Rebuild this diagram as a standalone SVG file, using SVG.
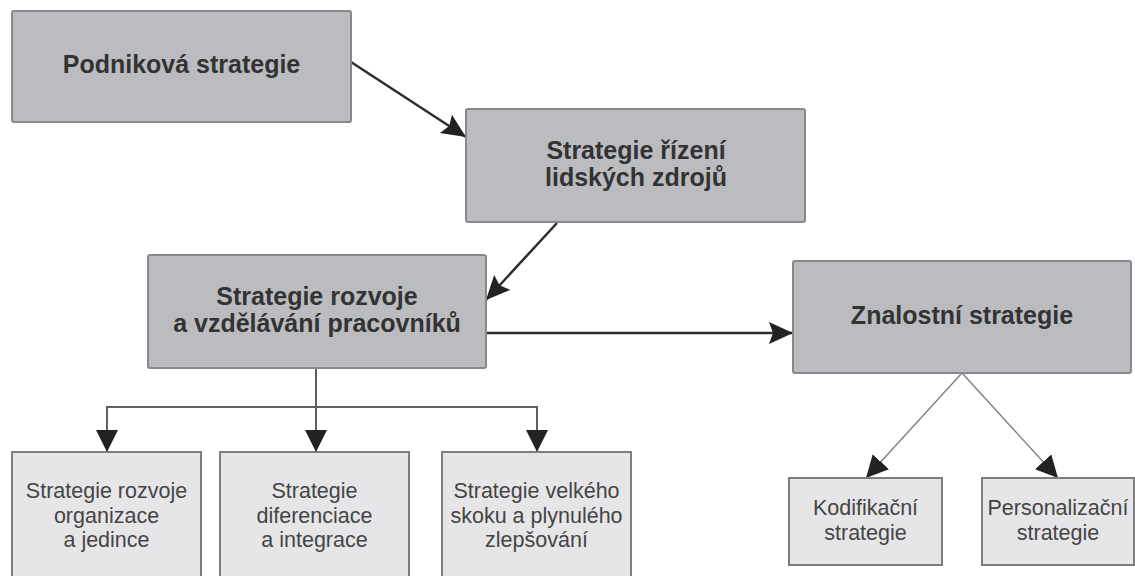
<svg xmlns="http://www.w3.org/2000/svg" width="1135" height="576" viewBox="0 0 1135 576">
<style>
.main{fill:#bbbcbf;stroke:#88898b;stroke-width:2}
.sub{fill:#e6e6e8;stroke:#7d7d7f;stroke-width:2}
.tb{font-family:"Liberation Sans",Arial,sans-serif;font-weight:bold;font-size:25px;fill:#333;text-anchor:middle}
.tr{font-family:"Liberation Sans",Arial,sans-serif;font-size:21.5px;fill:#454545;text-anchor:middle}
.thick{stroke:#2e2e2e;stroke-width:2.5;fill:none}
.mid{stroke:#606060;stroke-width:2;fill:none}
.thin{stroke:#777;stroke-width:1.2;fill:none}
</style>
<defs>
<marker id="ah" markerUnits="userSpaceOnUse" markerWidth="26" markerHeight="24" refX="24" refY="11" orient="auto">
<path d="M0,0 L24,11 L0,22 L4,11 z" fill="#222"/>
</marker>
<marker id="ahd" markerUnits="userSpaceOnUse" markerWidth="24" markerHeight="24" refX="22" refY="11" orient="auto">
<path d="M0,0 L22,11 L0,22 z" fill="#222"/>
</marker>
</defs>
<g id="connectors">
<line class="thick" x1="351" y1="62" x2="466" y2="137" marker-end="url(#ah)"/>
<line class="thick" x1="557" y1="223" x2="486" y2="300" marker-end="url(#ah)"/>
<line class="thick" x1="486" y1="333" x2="793" y2="333" marker-end="url(#ah)"/>
<path class="mid" d="M316,368 V452" marker-end="url(#ahd)"/>
<path class="mid" d="M316,407 H107 V452" marker-end="url(#ahd)"/>
<path class="mid" d="M316,407 H537 V452" marker-end="url(#ahd)"/>
<line class="thin" x1="962" y1="373" x2="866" y2="478" marker-end="url(#ahd)"/>
<line class="thin" x1="962" y1="373" x2="1058" y2="478" marker-end="url(#ahd)"/>
</g>
<g id="podnikova">
<rect class="main" x="12" y="11" width="339" height="111" rx="2"/>
<text class="tb" x="181.5" y="73">Podniková strategie</text>
</g>
<g id="rlz">
<rect class="main" x="466" y="109" width="339" height="113" rx="2"/>
<text class="tb" x="636" y="159">Strategie řízení</text>
<text class="tb" x="636" y="186">lidských zdrojů</text>
</g>
<g id="rozvoj">
<rect class="main" x="148" y="255" width="338" height="113" rx="2"/>
<text class="tb" x="317" y="305">Strategie rozvoje</text>
<text class="tb" x="317" y="332">a vzdělávání pracovníků</text>
</g>
<g id="znalostni">
<rect class="main" x="793" y="261" width="338" height="112" rx="2"/>
<text class="tb" x="962" y="324">Znalostní strategie</text>
</g>
<g id="organizace">
<rect class="sub" x="12" y="452" width="189" height="140"/>
<text class="tr" x="106.5" y="498">Strategie rozvoje</text>
<text class="tr" x="106.5" y="523">organizace</text>
<text class="tr" x="106.5" y="547">a jedince</text>
</g>
<g id="diferenciace">
<rect class="sub" x="220" y="452" width="189" height="140"/>
<text class="tr" x="314.5" y="498">Strategie</text>
<text class="tr" x="314.5" y="523">diferenciace</text>
<text class="tr" x="314.5" y="547">a integrace</text>
</g>
<g id="skok">
<rect class="sub" x="442" y="452" width="189" height="140"/>
<text class="tr" x="536.5" y="498">Strategie velkého</text>
<text class="tr" x="536.5" y="523">skoku a plynulého</text>
<text class="tr" x="536.5" y="547">zlepšování</text>
</g>
<g id="kodifikacni">
<rect class="sub" x="789" y="478" width="153" height="87"/>
<text class="tr" x="865.5" y="515">Kodifikační</text>
<text class="tr" x="865.5" y="540">strategie</text>
</g>
<g id="personalizacni">
<rect class="sub" x="982" y="478" width="152" height="87"/>
<text class="tr" x="1058" y="515">Personalizační</text>
<text class="tr" x="1058" y="540">strategie</text>
</g>
</svg>
